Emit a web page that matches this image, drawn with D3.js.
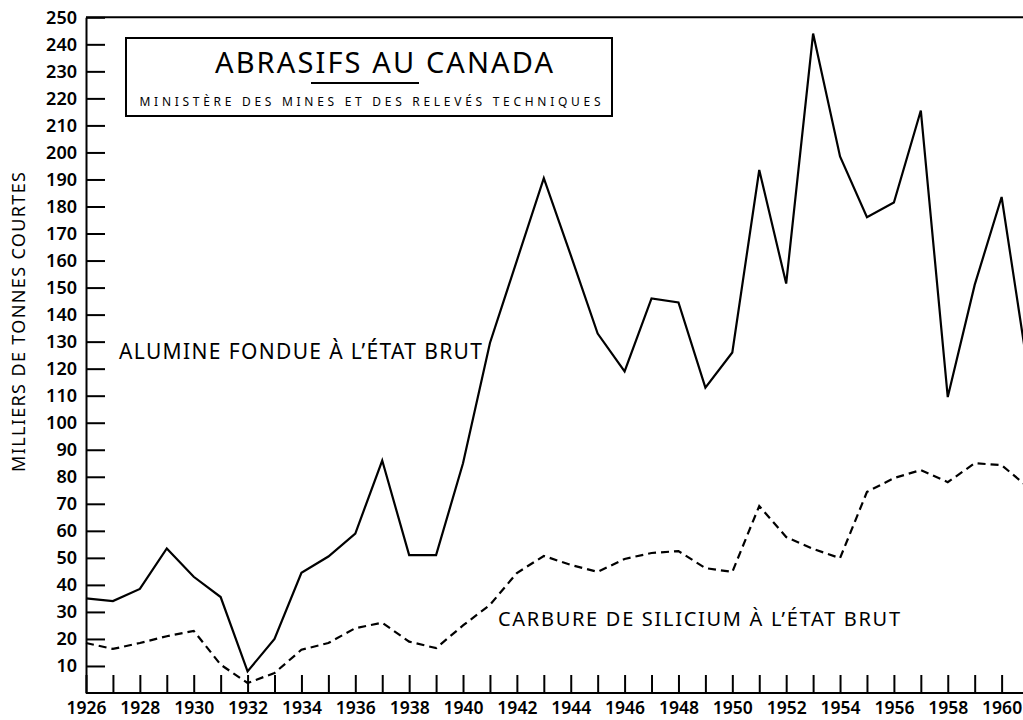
<!DOCTYPE html>
<html>
<head>
<meta charset="utf-8">
<script src="https://cdn.jsdelivr.net/npm/d3@7"></script>
<style>
  body { margin: 0; background: #fff; }
  svg { display: block; font-family: "Noto Sans", sans-serif; }
</style>
</head>
<body>
<svg id="chart" width="1023" height="720"></svg>
<script>
// years 1926 - 1961 (last one is cut off at the right edge)
const years = d3.range(1926, 1962);

// alumine fondue a l'etat brut, milliers de tonnes courtes
const alumine = [35, 34, 38.5, 53.5, 43, 35.5, 8, 20, 44.5, 50.5, 59, 86, 51, 51, 85, 129.5,
  160, 190.5, 162, 133, 119, 146, 144.5, 113, 126, 193.5, 151.5, 244, 198.5, 176, 181.5, 215.5,
  109.5, 151, 183.5, 118];

// carbure de silicium a l'etat brut
const carbure = [18.5, 16.3, 18.5, 21, 23, 10.5, 3.7, 7.4, 16, 18.5, 24, 26, 19, 16.6, 25, 32.6,
  44.4, 50.7, 47.4, 44.8, 49.6, 51.8, 52.5, 46.2, 44.8, 69.2, 57.7, 53.3, 49.9, 74.4, 79.5, 82.5,
  78, 85, 84.3, 76];

const yTicks = d3.range(10, 251, 10);
const xTicks = d3.range(1926, 1961);

const svg = d3.select('#chart');

const x = d3.scaleLinear().domain([1926, 1961]).range([86, 86 + 35 * 26.93]);
const y = d3.scaleLinear().domain([0, 250]).range([693, 17.3]);

// top border
svg.append('line')
  .attr('x1', 86).attr('x2', 1023)
  .attr('y1', y(250)).attr('y2', y(250))
  .attr('stroke', '#000').attr('stroke-width', 2);

// y axis, ticks pointing inward
const yAxis = svg.append('g')
  .attr('transform', `translate(${x(1926)},0)`)
  .call(d3.axisLeft(y).tickValues(yTicks).tickSizeInner(-19).tickSizeOuter(0).tickPadding(9))
  .attr('font-family', '"Noto Sans", sans-serif');
yAxis.select('.domain').attr('stroke-width', 2);
yAxis.selectAll('.tick line').attr('stroke-width', 2);
yAxis.selectAll('.tick text')
  .attr('font-size', 18).attr('font-weight', 600).attr('fill', '#000');

// x axis
const xAxis = svg.append('g')
  .attr('transform', `translate(0,${y(0)})`)
  .call(d3.axisBottom(x).tickValues(xTicks).tickSizeInner(-18).tickSizeOuter(0).tickPadding(9)
    .tickFormat(d => d % 2 === 0 ? d : ''))
  .attr('font-family', '"Noto Sans", sans-serif');
xAxis.select('.domain').attr('d', `M${x(1926)},0H1023`).attr('stroke-width', 2);
xAxis.selectAll('.tick line').attr('stroke-width', 2);
xAxis.selectAll('.tick text')
  .attr('font-size', 17.5).attr('font-weight', 600).attr('fill', '#000');

// y axis title
svg.append('text')
  .attr('transform', 'translate(25,322) rotate(-90)')
  .attr('text-anchor', 'middle')
  .attr('font-size', 18)
  .attr('textLength', 300)
  .text('MILLIERS DE TONNES COURTES');

const line = d3.line()
  .x((d, i) => x(years[i]))
  .y(d => y(d));

svg.append('path')
  .datum(alumine)
  .attr('d', line)
  .attr('fill', 'none')
  .attr('stroke', '#000')
  .attr('stroke-width', 2.2)
  .attr('stroke-linejoin', 'miter');

svg.append('path')
  .datum(carbure)
  .attr('d', line)
  .attr('fill', 'none')
  .attr('stroke', '#000')
  .attr('stroke-width', 2.2)
  .attr('stroke-dasharray', '8,5');

// series labels
svg.append('text')
  .attr('x', 119).attr('y', 359)
  .attr('font-size', 21)
  .attr('textLength', 363)
  .text('ALUMINE FONDUE À L’ÉTAT BRUT');

svg.append('text')
  .attr('x', 498).attr('y', 626)
  .attr('font-size', 20)
  .attr('textLength', 402)
  .text('CARBURE DE SILICIUM À L’ÉTAT BRUT');

// title box
const tb = svg.append('g');
tb.append('rect')
  .attr('x', 126).attr('y', 38).attr('width', 486).attr('height', 78)
  .attr('fill', '#fff').attr('stroke', '#000').attr('stroke-width', 2);
tb.append('text')
  .attr('x', 384).attr('y', 73)
  .attr('text-anchor', 'middle')
  .attr('font-size', 29)
  .attr('textLength', 338)
  .text('ABRASIFS  AU CANADA');
tb.append('line')
  .attr('x1', 311).attr('x2', 419).attr('y1', 83).attr('y2', 83)
  .attr('stroke', '#000').attr('stroke-width', 2);
tb.append('text')
  .attr('x', 370).attr('y', 106)
  .attr('text-anchor', 'middle')
  .attr('font-size', 12)
  .attr('textLength', 461)
  .text('MINISTÈRE DES MINES ET DES RELEVÉS TECHNIQUES');
</script>
</body>
</html>
